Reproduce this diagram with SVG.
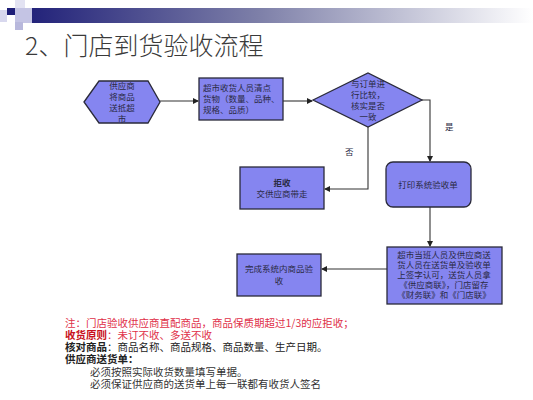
<svg xmlns="http://www.w3.org/2000/svg" width="533" height="400" viewBox="0 0 533 400">
<defs>
<linearGradient id="bar" x1="0" y1="0" x2="1" y2="0">
<stop offset="0" stop-color="#23237a"/>
<stop offset="0.45" stop-color="#7d7fa8"/>
<stop offset="1" stop-color="#ffffff"/>
</linearGradient>
<marker id="ah" markerWidth="6" markerHeight="6" refX="5" refY="3" orient="auto" markerUnits="userSpaceOnUse">
<path d="M0,0 L6,3 L0,6 Z" fill="#222"/>
</marker>
<style>
.n{fill:#8585f0;stroke:#2a2a3a;stroke-width:1.3}
.t{font-family:"Noto Sans CJK SC","Noto Sans",sans-serif;fill:#2a2a44;font-size:8.5px}
.c{text-anchor:middle}
.e{fill:none;stroke:#333;stroke-width:1.1;marker-end:url(#ah)}
.nt{font-family:"Noto Sans CJK SC","Noto Sans",sans-serif;font-size:10.5px}
</style>
</defs>
<rect width="533" height="400" fill="#fff"/>
<g id="header">
<rect x="32" y="8" width="501" height="15" fill="url(#bar)"/>
<rect x="0" y="10" width="7" height="12" fill="#d8d8ee"/>
<rect x="15" y="0" width="10" height="8" fill="#e2e2f2"/>
<rect x="15" y="8" width="17" height="15" fill="#c4c4e4"/>
<rect x="15" y="22" width="8" height="8" fill="#b8b8dc"/>
<rect x="7" y="8" width="8" height="7" fill="#1e1e78"/>
<text x="25" y="55" font-family="'Noto Sans CJK SC',sans-serif" font-size="25" font-weight="300" fill="#3a3a3a">2、门店到货验收流程</text>
</g>
<g id="connectors">
<path class="e" d="M160,101 H198"/>
<path class="e" d="M283,101 H312"/>
<path class="e" d="M422,100 H430 V161"/>
<path class="e" d="M368,127 V189 H325"/>
<path class="e" d="M430,207 V246"/>
<path class="e" d="M387,269 H322"/>
<text class="t" x="445" y="130" font-size="9">是</text>
<text class="t" x="345" y="155" font-size="9">否</text>
</g>
<g id="supplier">
<polygon class="n" points="84,102 99,81 148,81 160,102 148,123 99,123"/>
<text class="t c" x="122" y="88.5">供应商</text>
<text class="t c" x="122" y="99.5">将商品</text>
<text class="t c" x="122" y="110.5">送抵超</text>
<text class="t c" x="122" y="121.5">市</text>
</g>
<g id="check">
<rect class="n" x="199" y="78" width="84" height="42"/>
<text class="t" x="203" y="91">超市收货人员清点</text>
<text class="t" x="203" y="102">货物（数量、品种、</text>
<text class="t" x="203" y="113">规格、品质）</text>
</g>
<g id="compare">
<polygon class="n" points="313,100 368,73 422,100 368,127"/>
<text class="t c" x="368" y="87">与订单进</text>
<text class="t c" x="368" y="98">行比较，</text>
<text class="t c" x="368" y="109">核实是否</text>
<text class="t c" x="368" y="120">一致</text>
</g>
<g id="reject">
<rect class="n" x="240" y="167" width="84" height="42"/>
<text class="t c" x="282" y="186" font-weight="bold">拒收</text>
<text class="t c" x="282" y="197">交供应商带走</text>
</g>
<g id="print">
<rect class="n" x="386" y="162" width="85" height="45" rx="7"/>
<text class="t c" x="428" y="188">打印系统验收单</text>
</g>
<g id="sign">
<rect class="n" x="387" y="247" width="115" height="57"/>
<text class="t c" x="444" y="258">超市当班人员及供应商送</text>
<text class="t c" x="444" y="268">货人员在送货单及验收单</text>
<text class="t c" x="444" y="278">上签字认可，送货人员拿</text>
<text class="t c" x="444" y="288">《供应商联》，门店留存</text>
<text class="t c" x="444" y="298">《财务联》和《门店联》</text>
</g>
<g id="complete">
<rect class="n" x="237" y="254" width="84" height="42"/>
<text class="t c" x="279" y="272">完成系统内商品验</text>
<text class="t c" x="279" y="284">收</text>
</g>
<g id="notes">
<text class="nt" x="65" y="327" fill="#e03048">注：门店验收供应商直配商品，商品保质期超过1/3的应拒收；</text>
<text class="nt" x="65" y="339" fill="#c81020" font-weight="bold">收货原则</text>
<text class="nt" x="107" y="339" fill="#e03048">：未订不收、多送不收</text>
<text class="nt" x="65" y="351" fill="#222" font-weight="bold">核对商品</text>
<text class="nt" x="107" y="351" fill="#222">：商品名称、商品规格、商品数量、生产日期。</text>
<text class="nt" x="65" y="363" fill="#222" font-weight="bold">供应商送货单：</text>
<text class="nt" x="90" y="376" fill="#333">必须按照实际收货数量填写单据。</text>
<text class="nt" x="90" y="388" fill="#333">必须保证供应商的送货单上每一联都有收货人签名</text>
</g>
</svg>
